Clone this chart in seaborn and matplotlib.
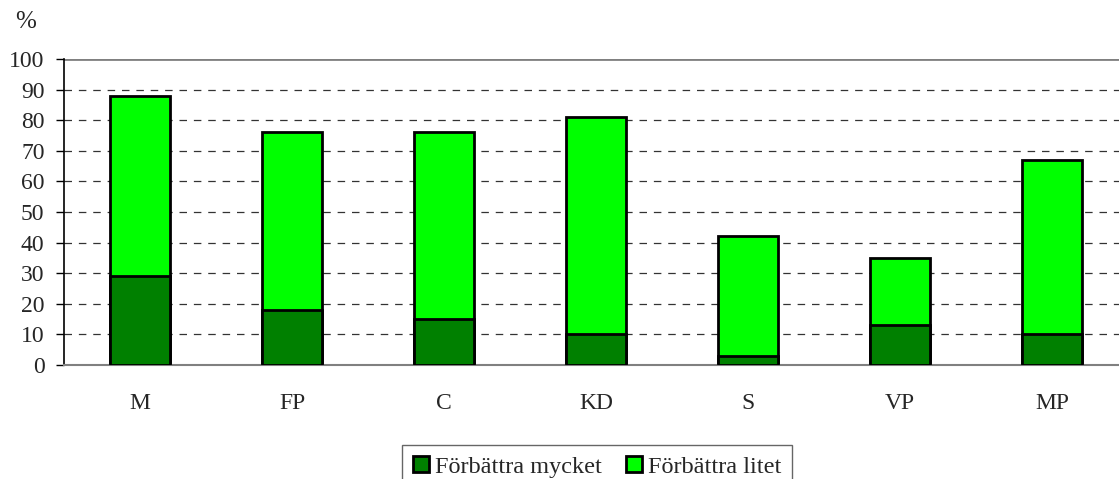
import matplotlib
matplotlib.use("Agg")
import matplotlib.pyplot as plt
import seaborn as sns
import pandas as pd
from matplotlib.patches import Patch

categories = ["M", "FP", "C", "KD", "S", "VP", "MP"]
mycket = [29, 18, 15, 10, 3, 13, 10]
litet = [59, 58, 61, 71, 39, 22, 57]
series_names = ["Förbättra mycket", "Förbättra litet"]
yticks = [0, 10, 20, 30, 40, 50, 60, 70, 80, 90, 100]

sns.set_theme(style="white")
plt.rcParams["font.family"] = ["Liberation Serif", "DejaVu Serif"]

dark = "#008000"
light = "#00FF00"

df = pd.DataFrame({"cat": categories, "mycket": mycket,
                   "total": [a + b for a, b in zip(mycket, litet)]})

fig = plt.figure(figsize=(11.19, 4.79), dpi=100)
W, H = 1119, 479
ax = fig.add_axes([64 / W, (H - 365) / H, (1128 - 64) / W, (365 - 59) / H])

for y in yticks[1:-1]:
    ax.axhline(y, color="#333333", lw=0.9, ls=(0, (6, 5.5)), zorder=0)
ax.axhline(100, color="#808080", lw=2, zorder=0)

sns.barplot(data=df, x="cat", y="total", color=light, width=0.4,
            edgecolor="black", linewidth=2, saturation=1, ax=ax, zorder=2)
sns.barplot(data=df, x="cat", y="mycket", color=dark, width=0.4,
            edgecolor="black", linewidth=2, saturation=1, ax=ax, zorder=3)

ax.set_xlim(-0.5, 6.5)
ax.set_ylim(0, 100)
ax.set_yticks(yticks)
ax.set_yticklabels([str(v) for v in yticks], fontsize=17)
ax.set_xticks(range(len(categories)))
ax.set_xticklabels(categories, fontsize=17)
ax.set_xticks([i - 0.5 for i in range(len(categories) + 1)], minor=True)
ax.tick_params(axis="x", which="major", length=0, pad=20)
ax.tick_params(axis="x", which="minor", length=6, width=1, color="#808080", direction="out")
ax.tick_params(axis="y", which="major", length=6, width=1, color="black", direction="out", pad=8, left=True)
ax.set_xlabel("")
ax.set_ylabel("")

for s in ["top", "right"]:
    ax.spines[s].set_visible(False)
ax.spines["left"].set_color("black")
ax.spines["left"].set_linewidth(1.2)
ax.spines["bottom"].set_color("#808080")
ax.spines["bottom"].set_linewidth(1.5)

fig.text(26 / W, 1 - 22 / H, "%", fontsize=18, va="center", ha="center")

handles = [Patch(facecolor=dark, edgecolor="black", linewidth=2, label=series_names[0]),
           Patch(facecolor=light, edgecolor="black", linewidth=2, label=series_names[1])]
leg = fig.legend(handles=handles, loc="upper left", bbox_to_anchor=(402 / W, 1 - 445 / H),
                 ncol=2, frameon=True, fontsize=17.5, handlelength=0.65, handleheight=0.65,
                 handletextpad=0.25, columnspacing=1.0, borderpad=0.45, fancybox=False,
                 edgecolor="#404040", borderaxespad=0)
leg.get_frame().set_linewidth(1)

fig.savefig("out.png", dpi=100)
